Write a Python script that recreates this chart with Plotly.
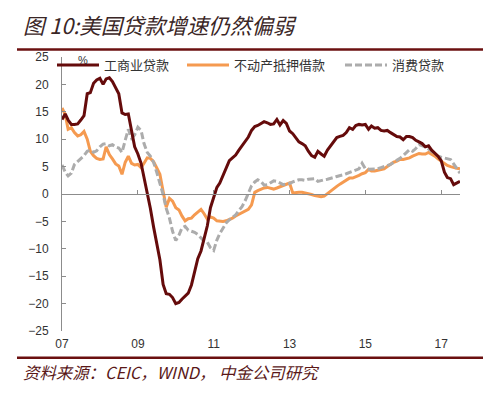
import pandas as pd
import plotly.graph_objects as go

# ---- data (monthly, Jan 2007 - Jul 2017, YoY %) ----
start_month = "2007-01-01"
ci_loans = [13.6, 14.6, 13.5, 12.7, 12.7, 12.8, 13.5, 14.3, 18.3, 18.5,
            20.2, 20.8, 21.1, 20.0, 21.0, 21.2, 20.5, 19.3, 18.3, 14.8,
            14.5, 14.6, 11.5, 8.6, 7.3, 5.6, 3.0, 0.3, -2.6, -6.0,
            -8.7, -12.0, -16.5, -18.2, -18.3, -18.9, -20.0, -19.8, -19.2, -18.7,
            -18.1, -16.6, -14.1, -11.8, -10.4, -8.3, -5.8, -2.5, -0.5, 1.2,
            2.0, 3.4, 5.0, 6.1, 6.6, 7.1, 8.0, 8.8, 9.6, 10.4,
            11.6, 12.3, 12.5, 12.8, 13.2, 13.0, 12.7, 12.8, 13.6, 12.6,
            13.4, 12.9, 11.5, 11.0, 10.2, 9.5, 9.2, 8.8, 7.8, 7.0,
            6.7, 7.8, 7.3, 6.9, 8.0, 8.8, 9.7, 10.3, 10.5, 10.7,
            11.2, 12.1, 11.8, 12.5, 12.7, 12.6, 12.7, 11.8, 12.4, 12.0,
            12.1, 11.6, 11.5, 11.6, 11.2, 10.8, 10.5, 10.4, 9.9, 10.5,
            10.5, 10.3, 9.8, 9.5, 9.2, 8.6, 8.8, 8.0, 7.4, 6.9,
            6.1, 4.0, 3.0, 2.8, 1.7, 2.0, 2.3]
real_estate = [15.7, 14.5, 11.8, 12.1, 11.2, 10.6, 10.8, 11.4, 10.0, 7.8,
               7.0, 6.5, 6.3, 6.4, 8.6, 7.2, 6.4, 5.5, 5.1, 3.6,
               5.8, 6.9, 5.6, 5.3, 5.4, 4.8, 5.6, 6.6, 6.5, 5.9,
               4.8, 3.6, 0.5, -2.4, -0.8, -1.3, -2.5, -2.9, -4.0, -4.9,
               -4.5, -4.4, -3.8, -3.3, -2.8, -3.6, -4.6, -4.2, -4.4, -4.9,
               -5.0, -5.0, -4.9, -4.7, -4.4, -4.0, -3.7, -3.4, -3.1, -2.8,
               -2.0, 0.3, 0.6, 0.9, 1.1, 1.2, 1.1, 0.9, 1.1, 1.3,
               1.6, 1.8, 2.0, 0.2, 0.3, 0.3, 0.3, 0.2, 0.1, -0.1,
               -0.3, -0.4, -0.5, -0.4, 0.1, 0.6, 1.0, 1.4, 1.8, 2.2,
               2.6, 2.9, 2.9, 3.1, 3.4, 3.7, 3.9, 4.5, 4.2, 4.2,
               4.3, 4.4, 4.6, 5.0, 5.4, 5.8, 6.0, 6.3, 6.3, 6.4,
               6.6, 6.9, 7.1, 7.4, 7.3, 7.3, 7.6, 7.3, 6.9, 6.4,
               6.0, 5.6, 5.2, 5.0, 4.8, 4.7, 4.6]
consumer = [5.3, 4.0, 3.3, 3.8, 5.4, 5.9, 6.4, 7.0, 7.8, 8.0,
            7.6, 7.9, 8.6, 9.1, 9.2, 8.8, 9.0, 8.6, 8.4, 7.6,
            9.8, 11.8, 10.2, 10.8, 12.2, 11.6, 9.2, 7.6, 6.9, 5.8,
            4.0, 2.0, -0.1, -2.6, -4.4, -6.8, -8.5, -7.5, -6.2, -5.9,
            -6.6, -6.8, -7.0, -7.4, -8.0, -8.6, -8.8, -9.8, -10.3, -8.4,
            -7.2, -6.2, -5.3, -4.7, -4.3, -3.8, -3.0, -2.3, -1.2, 0.3,
            1.5, 2.2, 2.6, 2.3, 1.6, 1.7, 2.0, 2.4, 2.3, 2.0,
            1.7, 1.8, 1.9, 2.2, 2.4, 2.6, 2.6, 2.5, 2.7, 2.8,
            2.8, 2.3, 2.5, 2.6, 2.7, 2.8, 3.0, 3.2, 3.3, 3.5,
            3.7, 3.9, 4.1, 4.3, 4.6, 5.6, 4.6, 4.5, 4.5, 4.5,
            4.6, 4.8, 5.0, 5.2, 5.4, 5.8, 6.1, 6.5, 7.0, 7.6,
            8.1, 7.8, 8.3, 9.0, 8.8, 8.6, 8.2, 7.8, 7.3, 6.9,
            6.7, 6.6, 6.4, 6.3, 5.5, 4.6, 3.8]
series_names = ["工商业贷款", "不动产抵押借款", "消费贷款"]
tick_dates = ["2007-01-01", "2009-01-01", "2011-01-01", "2013-01-01", "2015-01-01", "2017-01-01"]
tick_labels = ["07", "09", "11", "13", "15", "17"]
y_ticks = [25, 20, 15, 10, 5, 0, -5, -10, -15, -20, -25]

dates = pd.date_range(start_month, periods=len(ci_loans), freq="MS")

DARK = "#650b0b"
ORANGE = "#f59a50"
GRAY = "#acacac"
AXIS = "#8c8c8c"

fig = go.Figure()
fig.add_trace(go.Scatter(x=dates, y=ci_loans, name=series_names[0], xaxis="x2", legend="legend",
                         mode="lines", line=dict(color=DARK, width=3)))
fig.add_trace(go.Scatter(x=dates, y=real_estate, name=series_names[1], legend="legend2",
                         mode="lines", line=dict(color=ORANGE, width=3)))
fig.add_trace(go.Scatter(x=dates, y=consumer, name=series_names[2], legend="legend3",
                         mode="lines", line=dict(color=GRAY, width=3, dash="7px,3px")))

x_range = [dates[0], dates[-1]]
tickfont = dict(family="Liberation Sans, Arial, sans-serif", size=12, color="#333333")
legfont = dict(family="Noto Sans CJK SC", size=13, color="#333333")

# pixel -> paper helpers for the frame decorations
L, R, T, B = 62, 460, 57, 331
def px(x):
    return (x - L) / (R - L)
def py(y):
    return (B - y) / (B - T)

def leg(xpix):
    return dict(orientation="h", x=px(xpix), y=py(65), xanchor="left", yanchor="middle",
                font=legfont, bgcolor="rgba(0,0,0,0)", itemwidth=42,
                borderwidth=0)

fig.update_layout(
    width=504, height=395,
    margin=dict(l=L, r=504 - R, t=T, b=395 - B),
    paper_bgcolor="white", plot_bgcolor="white",
    showlegend=True,
    legend=leg(52), legend2=leg(182), legend3=leg(340),
    xaxis=dict(range=x_range, tickvals=tick_dates, ticktext=tick_labels,
               showline=False, showgrid=False, zeroline=False, ticks="",
               tickfont=tickfont, ticklabelstandoff=4),
    xaxis2=dict(matches="x", overlaying="x", anchor="free", position=0.5, side="bottom",
                tickvals=tick_dates, showticklabels=False, showline=True, linecolor=AXIS,
                linewidth=1, ticks="inside", ticklen=4, tickcolor=AXIS,
                showgrid=False, zeroline=False),
    yaxis=dict(range=[-25, 25], tickvals=y_ticks, showline=True, linecolor=AXIS, linewidth=1,
               ticks="inside", ticklen=4, tickcolor=AXIS, showgrid=False, zeroline=False,
               tickfont=tickfont, ticklabelstandoff=10, domain=[0, 1]),
    shapes=[
        dict(type="line", xref="paper", yref="paper", x0=px(17), x1=px(483), y0=py(49.5), y1=py(49.5),
             line=dict(color="#6b1010", width=2.5)),
        dict(type="line", xref="paper", yref="paper", x0=px(17), x1=px(483), y0=py(357.7), y1=py(357.7),
             line=dict(color="#6b1010", width=2.5)),
    ],
    annotations=[
        dict(text="图 10:美国贷款增速仍然偏弱", xref="paper", yref="paper", x=px(21), y=py(25),
             xanchor="left", yanchor="middle", showarrow=False,
             font=dict(family="Noto Sans CJK SC", size=21.5, color="#3a2626", style="italic")),
        dict(text="资料来源：CEIC，WIND， 中金公司研究", xref="paper", yref="paper", x=px(21), y=py(372),
             xanchor="left", yanchor="middle", showarrow=False,
             font=dict(family="Noto Sans CJK SC", size=16.4, color="#5a1818", style="italic")),
        dict(text="%", xref="paper", yref="paper", x=px(83), y=py(60),
             xanchor="center", yanchor="middle", showarrow=False,
             font=dict(family="Liberation Sans, Arial, sans-serif", size=11, color="#333333")),
    ],
)

fig.write_html("out.html", config={"displayModeBar": False},
               post_script="document.body.style.margin='0';document.body.style.overflow='hidden';")
